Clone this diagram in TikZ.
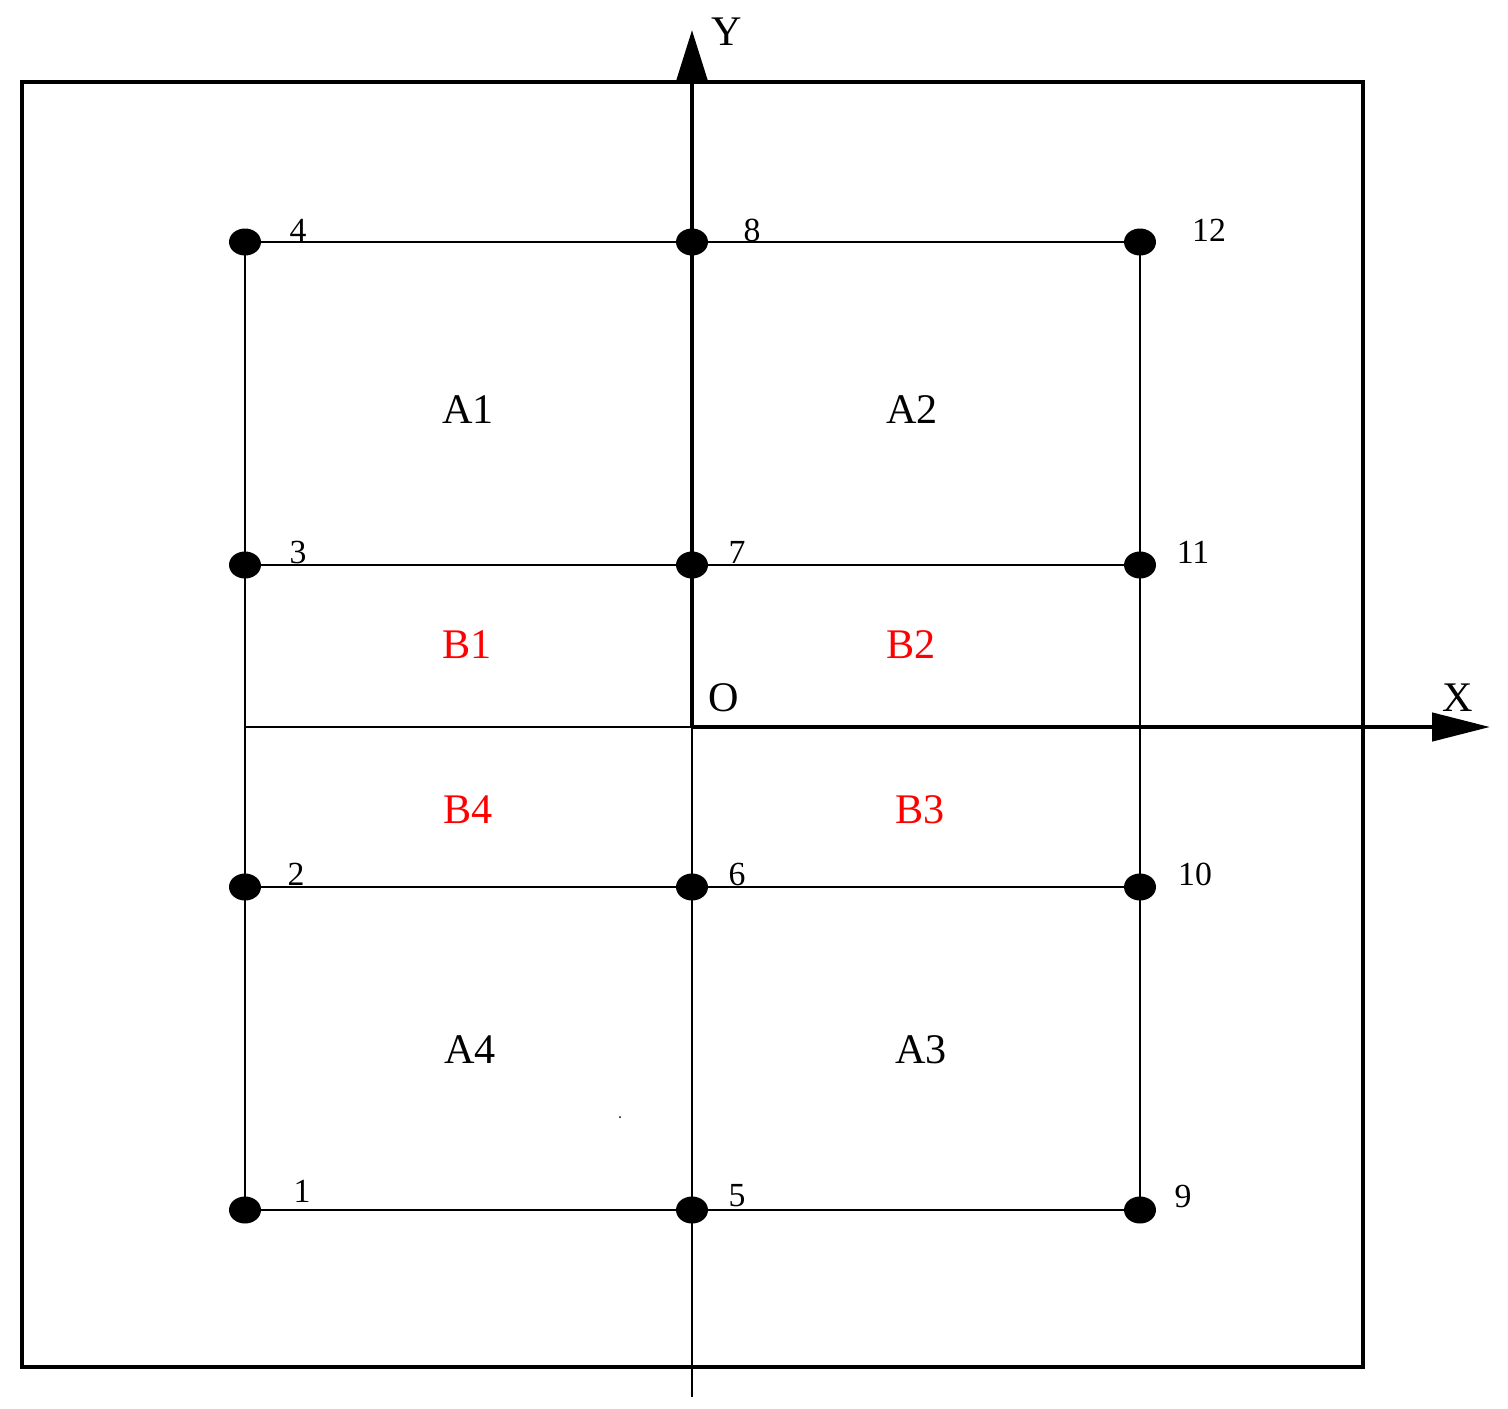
\documentclass[tikz,border=0pt]{standalone}
\usepackage{fontspec}
\setmainfont{Liberation Serif}
\usetikzlibrary{arrows.meta,shapes.geometric}
\begin{document}
\begin{tikzpicture}[x=0.05cm,y=-0.05cm,
 pt/.style={ellipse,fill=black,inner sep=0pt,minimum width=1.6cm,minimum height=1.35cm},
 num/.style={font=\fontsize{48}{48}\selectfont},
 big/.style={font=\fontsize{60}{60}\selectfont},
 thin/.style={line width=3.4pt},
 thick3/.style={line width=6.5pt}]
\useasboundingbox (0,0) rectangle (1508,1408);
\draw[thick3] (22,82) rectangle (1363,1367);
\coordinate (L) at (245,727);
\coordinate (O) at (692,727);
\coordinate (B) at (692,1397);
\coordinate (T) at (692,30);
\coordinate (R) at (1490,727);
\node[pt] (p1) at (245,1210) {};
\node[pt] (p2) at (245,887) {};
\node[pt] (p3) at (245,565) {};
\node[pt] (p4) at (245,242) {};
\node[pt] (p5) at (692,1210) {};
\node[pt] (p6) at (692,887) {};
\node[pt] (p7) at (692,565) {};
\node[pt] (p8) at (692,242) {};
\node[pt] (p9) at (1140,1210) {};
\node[pt] (p10) at (1140,887) {};
\node[pt] (p11) at (1140,565) {};
\node[pt] (p12) at (1140,242) {};
\draw[thin] (p4.center)--(p12.center) (p3.center)--(p11.center) (p2.center)--(p10.center) (p1.center)--(p9.center);
\draw[thin] (p4.center)--(p1.center) (p12.center)--(p9.center);
\draw[thin] (L)--(O) (O)--(B);
\draw[thick3,-{Triangle[length=2.5cm,width=1.5cm]}] (O)--(T);
\draw[thick3,-{Triangle[length=2.9cm,width=1.4cm]}] (O)--(R);
\fill (620,1117) circle (1);
\node[num] at (298,230) {4};
\node[num] at (752,230) {8};
\node[num] at (1209,230) {12};
\node[num] at (298,552) {3};
\node[num] at (737,552) {7};
\node[num] at (1193,552) {11};
\node[num] at (296,874) {2};
\node[num] at (737,874) {6};
\node[num] at (1195,874) {10};
\node[num] at (302,1191) {1};
\node[num] at (737,1196) {5};
\node[num] at (1183,1196) {9};
\node[big] at (468,410) {A1};
\node[big] at (912,410) {A2};
\node[big,red] at (467,645) {B1};
\node[big,red] at (911,645) {B2};
\node[big,red] at (468,810) {B4};
\node[big,red] at (920,810) {B3};
\node[big] at (470,1050) {A4};
\node[big] at (921,1050) {A3};
\node[big] at (724,698) {O};
\node[big] at (1458,698) {X};
\node[big] at (727,32) {Y};
\end{tikzpicture}
\end{document}
